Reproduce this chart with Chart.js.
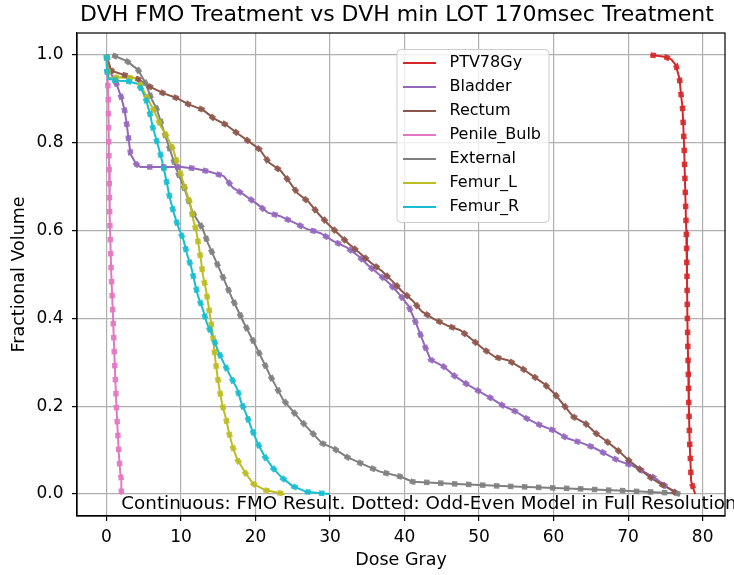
<!DOCTYPE html>
<html>
<head>
<meta charset="utf-8">
<script src="https://cdn.jsdelivr.net/npm/chart.js@4.4.0/dist/chart.umd.min.js"></script>
<style>
  html, body { margin: 0; padding: 0; background: #fff; }
  #wrap { width: 734px; height: 575px; }
</style>
</head>
<body>
<div id="wrap"><canvas id="dvh" width="734" height="575"></canvas></div>
<script>
// DVH curves, dose in Gy against fractional volume
const structures = ['PTV78Gy', 'Bladder', 'Rectum', 'Penile_Bulb', 'External', 'Femur_L', 'Femur_R'];
const colors = ['#d62728', '#9467bd', '#8c564b', '#e377c2', '#7f7f7f', '#bcbd22', '#17becf'];

const ptvDose = [73.0, 74.9, 75.8, 76.4, 76.9, 77.1, 77.3, 77.5, 77.65, 77.8, 77.9, 77.95, 78.05, 78.15, 78.25, 78.4, 78.45, 78.8, 79.0];
const ptvVol = [1.0, 0.996, 0.99, 0.977, 0.945, 0.91, 0.88, 0.80, 0.70, 0.60, 0.50, 0.40, 0.30, 0.20, 0.12, 0.06, 0.03, 0.01, 0.0];

const bladderDose = [0, 0.4, 1.35, 2.0, 2.45, 2.75, 3.0, 3.25, 4.0, 4.55, 6.5, 8.3, 10.1, 12.0, 13.85, 15.75, 16.95, 18.6, 20.1, 21.65, 23.45, 25.2, 26.85, 28.75, 30.45, 32.3, 33.8, 35.1, 36.6, 38.0, 39.35, 40.55, 41.35, 42.05, 42.75, 43.5, 45.2, 46.7, 48.3, 49.9, 51.65, 53.25, 54.9, 56.5, 58.3, 60.0, 61.8, 63.65, 65.35, 67.05, 68.8, 70.55, 72.1, 73.8, 75.0, 76.5];
const bladderVol = [1.0, 0.964, 0.934, 0.903, 0.873, 0.839, 0.804, 0.774, 0.751, 0.745, 0.745, 0.745, 0.745, 0.741, 0.734, 0.724, 0.698, 0.68, 0.662, 0.641, 0.632, 0.618, 0.604, 0.594, 0.576, 0.561, 0.542, 0.521, 0.50, 0.479, 0.454, 0.428, 0.397, 0.367, 0.336, 0.306, 0.291, 0.269, 0.251, 0.235, 0.218, 0.201, 0.188, 0.171, 0.156, 0.145, 0.127, 0.117, 0.106, 0.091, 0.075, 0.065, 0.051, 0.034, 0.018, 0.002];

const rectumDose = [0, 0.65, 2.45, 4.25, 5.8, 7.6, 9.4, 11.1, 12.95, 14.45, 16.05, 17.6, 19.2, 20.6, 21.8, 23.4, 24.55, 25.65, 27.15, 28.4, 29.8, 31.1, 32.5, 33.9, 35.4, 36.95, 38.3, 39.65, 41.05, 42.3, 43.9, 45.7, 47.5, 49.05, 50.55, 52.15, 54.0, 55.7, 57.3, 58.8, 60.15, 61.45, 62.65, 64.25, 65.7, 67.2, 68.6, 70.0, 71.4, 72.95, 74.35, 75.9, 76.5];
const rectumVol = [1.0, 0.964, 0.954, 0.945, 0.928, 0.913, 0.902, 0.887, 0.875, 0.855, 0.841, 0.821, 0.802, 0.784, 0.755, 0.736, 0.711, 0.685, 0.665, 0.639, 0.614, 0.593, 0.570, 0.55, 0.528, 0.508, 0.486, 0.462, 0.441, 0.416, 0.399, 0.384, 0.373, 0.352, 0.331, 0.312, 0.304, 0.287, 0.268, 0.25, 0.228, 0.201, 0.176, 0.161, 0.138, 0.119, 0.10, 0.078, 0.059, 0.038, 0.023, 0.009, 0.0];

const bulbDose = [0, 0.15, 0.25, 0.35, 0.44, 0.65, 0.89, 1.1, 1.34, 1.65, 1.85, 2.0, 2.0];
const bulbVol = [1.0, 0.95, 0.9, 0.75, 0.63, 0.5, 0.4, 0.3, 0.2, 0.094, 0.05, 0.032, 0.0];

const externalDose = [0.8, 2.75, 4.25, 5.15, 6.05, 6.75, 8.05, 9.4, 10.5, 11.6, 12.9, 13.6, 15.2, 16.75, 18.35, 20.15, 21.9, 23.7, 26.2, 28.9, 30.5, 32.3, 35.6, 36.7, 39.4, 41.1, 47.0, 54.7, 64.6, 70.3, 76.2, 77.0];
const externalVol = [1.0, 0.986, 0.966, 0.939, 0.90, 0.877, 0.808, 0.74, 0.694, 0.64, 0.605, 0.572, 0.511, 0.45, 0.393, 0.333, 0.272, 0.215, 0.165, 0.116, 0.104, 0.084, 0.059, 0.051, 0.040, 0.028, 0.023, 0.017, 0.011, 0.007, 0.002, 0.0];

const femurLDose = [0, 0.3, 1.35, 4.0, 4.65, 5.55, 6.5, 7.25, 8.05, 8.95, 9.5, 10.05, 10.6, 11.2, 11.6, 12.1, 12.4, 12.7, 12.95, 13.35, 13.65, 13.95, 14.25, 14.45, 14.65, 14.9, 15.2, 15.55, 16.05, 16.45, 16.95, 17.55, 18.6, 19.7, 21.3, 23.3, 23.9];
const femurLVol = [1.0, 0.947, 0.949, 0.947, 0.93, 0.90, 0.869, 0.839, 0.816, 0.785, 0.755, 0.724, 0.694, 0.664, 0.628, 0.595, 0.563, 0.530, 0.498, 0.466, 0.434, 0.401, 0.367, 0.333, 0.30, 0.268, 0.235, 0.203, 0.171, 0.139, 0.107, 0.079, 0.049, 0.023, 0.009, 0.002, 0.0];

const femurRDose = [0, 0.05, 0.3, 1.75, 2.9, 4.25, 4.8, 5.35, 5.85, 6.25, 6.75, 7.25, 7.7, 8.1, 8.5, 9.0, 9.6, 10.35, 10.8, 11.4, 11.85, 12.3, 12.95, 13.5, 14.25, 14.95, 15.75, 16.65, 17.55, 18.1, 18.85, 19.5, 20.25, 21.25, 22.3, 23.5, 25.0, 26.85, 28.75, 30.0];
const femurRVol = [1.0, 0.964, 0.945, 0.941, 0.94, 0.934, 0.918, 0.896, 0.865, 0.833, 0.804, 0.774, 0.741, 0.709, 0.675, 0.642, 0.61, 0.578, 0.547, 0.515, 0.481, 0.45, 0.42, 0.388, 0.359, 0.327, 0.298, 0.268, 0.239, 0.208, 0.178, 0.148, 0.117, 0.085, 0.06, 0.038, 0.018, 0.005, 0.002, 0.0];

const doses = [ptvDose, bladderDose, rectumDose, bulbDose, externalDose, femurLDose, femurRDose];
const volumes = [ptvVol, bladderVol, rectumVol, bulbVol, externalVol, femurLVol, femurRVol];

const xTicks = [0, 10, 20, 30, 40, 50, 60, 70, 80];
const yTicks = [0.0, 0.2, 0.4, 0.6, 0.8, 1.0];

const titleText = 'DVH FMO Treatment vs DVH min LOT 170msec Treatment';
const noteText = 'Continuous: FMO Result. Dotted: Odd-Even Model in Full Resolution';
const FONT = '"DejaVu Sans", sans-serif';

function points(i) {
	return doses[i].map((d, k) => ({x: d, y: volumes[i][k]}));
}

function withAlpha(hex, a) {
	const n = parseInt(hex.slice(1), 16);
	return 'rgba(' + (n >> 16) + ',' + ((n >> 8) & 255) + ',' + (n & 255) + ',' + a + ')';
}

// FMO result as solid lines, odd-even model as thick dots on top
const datasets = [];
structures.forEach((name, i) => {
	datasets.push({
		label: name,
		data: points(i),
		borderColor: colors[i],
		borderWidth: 2,
		borderJoinStyle: 'round',
		pointRadius: 0,
		tension: 0,
		fill: false,
		solid: true
	});
});
structures.forEach((name, i) => {
	datasets.push({
		label: name + ' (odd-even)',
		data: points(i),
		borderColor: withAlpha(colors[i], 0.9),
		borderWidth: 5.5,
		borderDash: [5.5, 8.5],
		borderCapStyle: 'butt',
		pointRadius: 0,
		tension: 0,
		fill: false,
		solid: false
	});
});
// later datasets go on top
datasets.forEach((ds, i) => { ds.order = -i; });

const decorations = {
	id: 'decorations',
	afterDraw(chart) {
		const {ctx, chartArea: a, scales} = chart;
		ctx.save();

		// axes frame
		ctx.strokeStyle = '#000';
		ctx.lineWidth = 1.2;
		ctx.strokeRect(a.left, a.top, a.right - a.left, a.bottom - a.top);

		// title
		ctx.fillStyle = '#000';
		ctx.font = '22px ' + FONT;
		ctx.textAlign = 'center';
		ctx.textBaseline = 'alphabetic';
		ctx.fillText(titleText, (a.left + a.right) / 2 - 4, 21);

		// note at the bottom of the plot
		ctx.font = '18.3px ' + FONT;
		ctx.textAlign = 'left';
		ctx.fillText(noteText, scales.x.getPixelForValue(2), scales.y.getPixelForValue(-0.035));

		// legend box
		const bx = a.left + 320, by = a.top + 16.5, bw = 152, bh = 173;
		ctx.beginPath();
		ctx.roundRect(bx, by, bw, bh, 4);
		ctx.fillStyle = 'rgba(255,255,255,0.8)';
		ctx.fill();
		ctx.strokeStyle = '#cccccc';
		ctx.lineWidth = 1;
		ctx.stroke();

		ctx.font = '16px ' + FONT;
		ctx.textBaseline = 'middle';
		chart.data.datasets.filter(ds => ds.solid).forEach((ds, i) => {
			const y = by + 13.5 + i * 24;
			ctx.beginPath();
			ctx.moveTo(bx + 6, y);
			ctx.lineTo(bx + 39, y);
			ctx.strokeStyle = ds.borderColor;
			ctx.lineWidth = 2;
			ctx.stroke();
			ctx.fillStyle = '#000';
			ctx.fillText(ds.label, bx + 52.5, y);
		});
		ctx.restore();
	}
};

const gridOpts = {color: '#b0b0b0', lineWidth: 1.2, tickColor: '#000', tickLength: 5, tickWidth: 1.2};

new Chart(document.getElementById('dvh'), {
	type: 'line',
	data: {datasets: datasets},
	options: {
		responsive: false,
		animation: false,
		devicePixelRatio: 1,
		events: [],
		layout: {padding: {top: 33, right: 9, left: 0, bottom: 0}},
		plugins: {
			legend: {display: false},
			title: {display: false},
			tooltip: {enabled: false}
		},
		scales: {
			x: {
				type: 'linear',
				min: -3.95,
				max: 83,
				afterBuildTicks: (s) => { s.ticks = xTicks.map(v => ({value: v})); },
				afterFit: (s) => { s.height = 59; },
				grid: gridOpts,
				border: {color: '#000', width: 1.2},
				ticks: {
					color: '#000',
					font: {family: FONT, size: 17},
					padding: 6,
					maxRotation: 0,
					callback: (v) => String(v)
				},
				title: {
					display: true,
					text: 'Dose Gray',
					color: '#000',
					font: {family: FONT, size: 17.5},
					padding: {top: 0, bottom: 4}
				}
			},
			y: {
				type: 'linear',
				min: -0.05,
				max: 1.05,
				afterBuildTicks: (s) => { s.ticks = yTicks.map(v => ({value: v})); },
				afterFit: (s) => { s.width = 77; },
				grid: gridOpts,
				border: {color: '#000', width: 1.2},
				ticks: {
					color: '#000',
					font: {family: FONT, size: 17},
					padding: 8.5,
					callback: (v) => v.toFixed(1)
				},
				title: {
					display: true,
					text: 'Fractional Volume',
					color: '#000',
					font: {family: FONT, size: 17.5},
					padding: {top: 9, bottom: 0}
				}
			}
		}
	},
	plugins: [decorations]
});
</script>
</body>
</html>
